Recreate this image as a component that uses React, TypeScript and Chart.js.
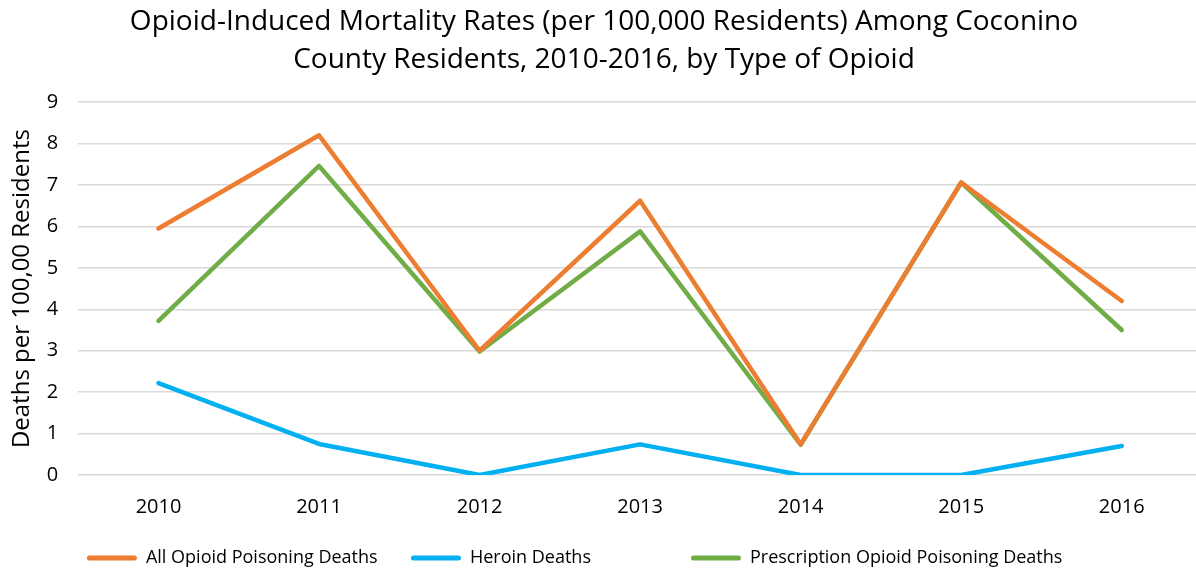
import React, { useEffect, useRef } from "react";
import { Chart, registerables } from "chart.js";

Chart.register(...registerables);

const years = ["2010", "2011", "2012", "2013", "2014", "2015", "2016"];
const allOpioid = [5.95, 8.2, 3.0, 6.62, 0.74, 7.06, 4.2];
const heroin = [2.22, 0.75, 0.0, 0.74, 0.0, 0.0, 0.7];
const prescription = [3.72, 7.46, 2.98, 5.88, 0.73, 7.06, 3.5];
const yTicks = [0, 1, 2, 3, 4, 5, 6, 7, 8, 9];
const seriesNames = [
  "All Opioid Poisoning Deaths",
  "Heroin Deaths",
  "Prescription Opioid Poisoning Deaths",
];
const seriesColors = ["#ED7D31", "#00B0F0", "#70AD47"];
// trailing spacing after each legend entry, imitating the reference's wide legend slots
const legendGaps = ["     ", "\u2003\u2003\u2003\u2003\u2003", "\u2003\u2003\u2003 "];

const titleLines = [
  "Opioid-Induced Mortality Rates (per 100,000 Residents) Among Coconino",
  "County Residents, 2010-2016, by Type of Opioid",
];
const yTitle = "Deaths per 100,00 Residents";

const FONT = "'Open Sans', sans-serif";

export default function App() {
  const ref = useRef<HTMLCanvasElement | null>(null);

  useEffect(() => {
    document.body.style.margin = "0";
    const canvas = ref.current;
    if (!canvas) return;
    const seriesData = [allOpioid, heroin, prescription];
    const chart = new Chart(canvas, {
      type: "line",
      data: {
        labels: years,
        datasets: seriesData.map((d, i) => ({
          label: seriesNames[i],
          data: d,
          borderColor: seriesColors[i],
          backgroundColor: seriesColors[i],
          borderWidth: 4.5,
          pointRadius: 0,
          borderCapStyle: "round" as const,
          borderJoinStyle: "round" as const,
          tension: 0,
        })),
      },
      options: {
        animation: false,
        responsive: true,
        maintainAspectRatio: false,
        layout: { padding: { top: 3, right: 2, left: 6, bottom: -6 } },
        plugins: {
          title: {
            display: true,
            text: titleLines,
            color: "#000000",
            font: { family: FONT, size: 28, weight: "normal", lineHeight: 1.36 },
            padding: { top: 0, bottom: 23 },
          },
          legend: {
            position: "bottom",
            labels: {
              color: "#000000",
              font: { family: FONT, size: 18 },
              boxWidth: 50,
              boxHeight: 5,
              useBorderRadius: true,
              borderRadius: 2.5,
              padding: 10,
              generateLabels: (c: any) =>
                c.data.datasets.map((ds: any, i: number) => ({
                  text: ds.label + legendGaps[i],
                  fillStyle: ds.borderColor,
                  strokeStyle: ds.borderColor,
                  lineWidth: 0,
                  datasetIndex: i,
                  hidden: false,
                  borderRadius: 2.5,
                })),
            },
          },
          tooltip: { enabled: false },
        },
        scales: {
          x: {
            offset: true,
            grid: { display: false, drawTicks: false },
            border: { display: false },
            ticks: { color: "#000000", font: { family: FONT, size: 20 }, padding: 20 },
          },
          y: {
            min: 0,
            max: 9,
            afterBuildTicks: (axis: any) => {
              axis.ticks = yTicks.map((v) => ({ value: v }));
            },
            grid: { color: "#D9D9D9", lineWidth: 1.5, drawTicks: false },
            border: { display: false },
            ticks: { color: "#000000", font: { family: FONT, size: 20 }, padding: 20 },
            title: {
              display: true,
              text: yTitle,
              color: "#000000",
              font: { family: FONT, size: 24, lineHeight: 1.2 },
              padding: { top: 2, bottom: -10 },
            },
          },
        },
      },
    });
    return () => chart.destroy();
  }, []);

  return (
    <div style={{ position: "fixed", left: 0, top: 0, width: 1196, height: 571, overflow: "hidden", background: "#fff" }}>
      <div style={{ position: "absolute", left: 0, top: 0, width: 1204, height: 571 }}>
        <canvas ref={ref} />
      </div>
    </div>
  );
}
